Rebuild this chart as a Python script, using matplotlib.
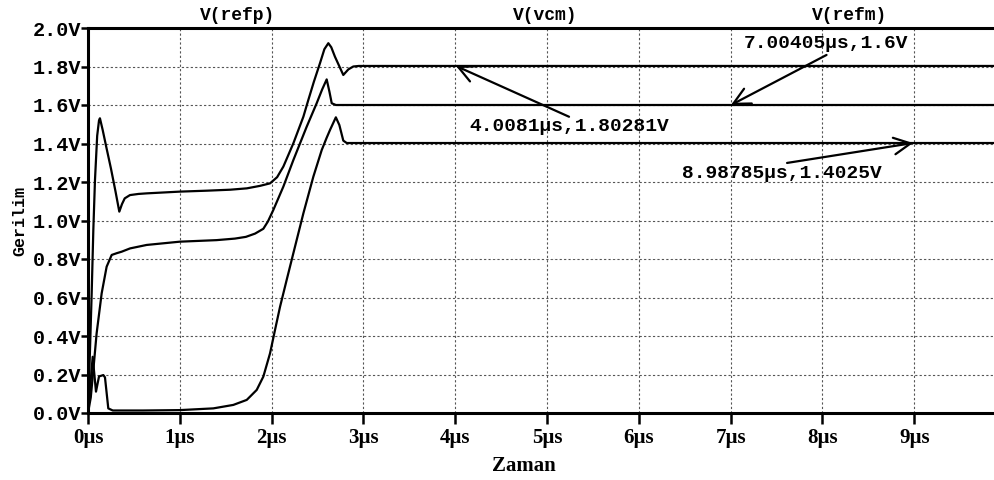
import matplotlib
matplotlib.use("Agg")
import matplotlib.pyplot as plt
from matplotlib.ticker import FuncFormatter

# ---- traces (time in µs, voltage in V) ----
t_refp = [0.0, 0.02, 0.04, 0.058, 0.076, 0.10, 0.12, 0.13, 0.16, 0.20, 0.25, 0.30, 0.341,
          0.37, 0.40, 0.457, 0.55, 0.64, 1.0, 1.3, 1.55, 1.73, 1.874, 1.983, 2.06, 2.128,
          2.237, 2.346, 2.40, 2.46, 2.527, 2.575, 2.618, 2.65, 2.69, 2.781, 2.836, 2.89,
          2.95, 10.0]
v_refp = [0.0, 0.30, 0.62, 0.95, 1.21, 1.44, 1.52, 1.531, 1.47, 1.38, 1.27, 1.15, 1.046,
          1.085, 1.115, 1.132, 1.138, 1.141, 1.150, 1.155, 1.160, 1.167, 1.180, 1.193, 1.225,
          1.280, 1.401, 1.539, 1.626, 1.72, 1.817, 1.89, 1.921, 1.90, 1.851, 1.756, 1.785,
          1.80, 1.80281, 1.80281]

t_vcm = [0.0, 0.03, 0.058, 0.094, 0.149, 0.203, 0.258, 0.312, 0.367, 0.458, 0.639, 1.0,
         1.40, 1.60, 1.72, 1.82, 1.91, 1.96, 2.019, 2.128, 2.237, 2.382, 2.491, 2.55, 2.60,
         2.63, 2.655, 2.70, 10.0]
v_vcm = [0.0, 0.08, 0.223, 0.414, 0.622, 0.760, 0.821, 0.830, 0.838, 0.855, 0.873, 0.890,
         0.898, 0.906, 0.915, 0.932, 0.957, 0.995, 1.055, 1.176, 1.314, 1.487, 1.609, 1.68,
         1.733, 1.669, 1.609, 1.6, 1.6]

t_refm = [0.0, 0.051, 0.087, 0.12, 0.167, 0.185, 0.221, 0.27, 0.6, 1.0, 1.365, 1.583,
          1.729, 1.765, 1.838, 1.91, 1.983, 2.037, 2.092, 2.164, 2.237, 2.346, 2.455, 2.546,
          2.60, 2.636, 2.70, 2.738, 2.781, 2.818, 10.0]
v_refm = [0.0, 0.292, 0.111, 0.19, 0.197, 0.185, 0.024, 0.013, 0.013, 0.015, 0.024, 0.042,
          0.068, 0.085, 0.12, 0.189, 0.31, 0.431, 0.552, 0.691, 0.83, 1.037, 1.228, 1.366,
          1.43, 1.47, 1.536, 1.496, 1.415, 1.4025, 1.4025]

trace_names = ["V(refp)", "V(vcm)", "V(refm)"]

# cursor read-outs: (time µs, voltage V)
cursor_t = [4.0081, 7.00405, 8.98785]
cursor_v = [1.80281, 1.6, 1.4025]
cursor_labels = ["4.0081µs,1.80281V", "7.00405µs,1.6V", "8.98785µs,1.4025V"]

x_ticks = [0, 1, 2, 3, 4, 5, 6, 7, 8, 9]
y_ticks = [0.0, 0.2, 0.4, 0.6, 0.8, 1.0, 1.2, 1.4, 1.6, 1.8, 2.0]

# ---- figure ----
W, H, DPI = 995, 480, 100
fig = plt.figure(figsize=(W / DPI, H / DPI), dpi=DPI)
ax = fig.add_axes([88 / W, 1 - 413 / H, 918 / W, (413 - 28) / H])

mono = "Liberation Mono"
serif = "Liberation Serif"

for t, v in ((t_refp, v_refp), (t_vcm, v_vcm), (t_refm, v_refm)):
    ax.plot(t, v, color="black", lw=1.6, solid_joinstyle="round", zorder=3)

ax.set_xlim(0, 10)
ax.set_ylim(0, 2.0)
ax.set_xticks(x_ticks)
ax.set_yticks(y_ticks)
ax.xaxis.set_major_formatter(FuncFormatter(lambda x, p: f"{x:.0f}µs"))
ax.yaxis.set_major_formatter(FuncFormatter(lambda y, p: f"{y:.1f}V"))

ax.grid(True, color="#555555", lw=0.8, linestyle=(0, (2, 2)))
ax.set_axisbelow(True)

for side in ("left", "bottom", "top"):
    ax.spines[side].set_linewidth(2.2)
    ax.spines[side].set_color("black")
ax.spines["right"].set_visible(False)

ax.tick_params(axis="y", direction="out", length=5, width=1.8, pad=0, labelsize=14.5)
ax.tick_params(axis="x", direction="out", length=8, width=1.8, pad=3, labelsize=15)
for lab in ax.get_yticklabels():
    lab.set_fontfamily(mono)
    lab.set_fontweight("bold")
for lab in ax.get_xticklabels():
    lab.set_fontfamily(serif)
    lab.set_fontweight("bold")

ax.set_ylabel("Gerilim", fontfamily=mono, fontweight="bold", fontsize=12, labelpad=4)
fig.text(524 / W, 1 - 466 / H, "Zaman", fontfamily=serif, fontweight="bold",
         fontsize=15, ha="center", va="center")

# trace titles above the plot
for name, xp in zip(trace_names, (238, 545, 850)):
    fig.text(xp / W, 1 - 16 / H, name, fontfamily=mono, fontweight="bold",
             fontsize=13, ha="center", va="center")

# cursor arrows and read-outs
tails = [(5.24, 1.539), (8.045, 1.86), (7.615, 1.299)]
text_pos = [(4.15, 1.486), (7.14, 1.92), (6.47, 1.245)]
for tc, vc, lbl, tail, tp in zip(cursor_t, cursor_v, cursor_labels, tails, text_pos):
    ax.annotate("", xy=(tc, vc), xytext=tail,
                arrowprops=dict(arrowstyle="->,head_length=0.6,head_width=0.3",
                                color="black", lw=1.6, shrinkA=0, shrinkB=0,
                                mutation_scale=20), zorder=4)
    ax.text(tp[0], tp[1], lbl, fontfamily=mono, fontweight="bold", fontsize=14,
            ha="left", va="center", zorder=5)

fig.savefig("out.png", dpi=DPI)
